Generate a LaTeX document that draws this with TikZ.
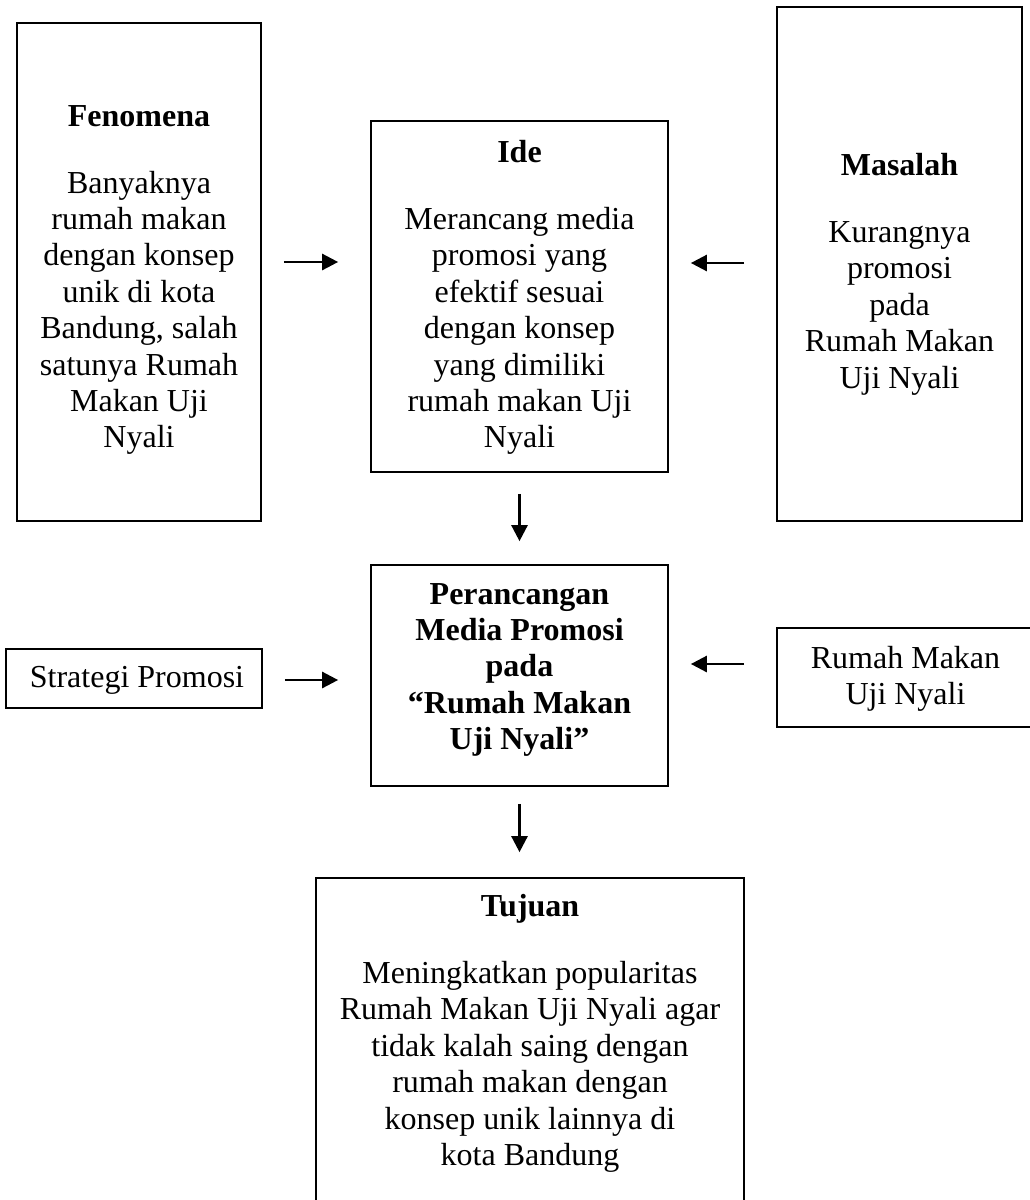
\documentclass[tikz,border=0pt]{standalone}
\usepackage{fontspec}
\setmainfont{Liberation Serif}
\usetikzlibrary{arrows.meta}
\tikzset{
box/.style={draw, line width=1.7pt, inner sep=0pt},
txt/.style={align=center, inner sep=0pt, anchor=north, font=\fontsize{32pt}{36.4pt}\selectfont},
arr/.style={-{Triangle[length=16pt,width=16pt]}, line width=2.6pt},
}
\newcommand{\ttl}[1]{\textbf{#1}\\[30.6pt]}

\begin{document}
\begin{tikzpicture}[x=1pt, y=-1pt]
    \path[use as bounding box] (0,0) rectangle (1030,1200);
    \clip (0,0) rectangle (1030,1200);
    % boxes
    \node[box, minimum width=244pt, minimum height=498pt] (fen) at (139,272) {};
    \node[box, minimum width=297pt, minimum height=351pt] (ide) at (519.5,296.5) {};
    \node[box, minimum width=245pt, minimum height=514pt] (mas) at (899.5,264) {};
    \node[box, minimum width=297pt, minimum height=221pt] (per) at (519.5,675.5) {};
    \node[box, minimum width=256pt, minimum height=59pt] (strat) at (134,678.5) {};
    \node[box, minimum width=257pt, minimum height=99pt] (rum) at (905.5,677.5) {};
    \node[box, minimum width=428pt, minimum height=332pt] (tuj) at (530,1044) {};
    % texts
    \node[txt] (fentxt) at (139,105) {\ttl{Fenomena}Banyaknya\\rumah makan\\dengan konsep\\unik di kota\\Bandung, salah\\satunya Rumah\\Makan Uji\\Nyali};
    \node[txt] (idetxt) at (519.5,140) {\ttl{Ide}Merancang media\\promosi yang\\efektif sesuai\\dengan konsep\\yang dimiliki\\rumah makan Uji\\Nyali};
    \node[txt] (mastxt) at (899.5,153) {\ttl{Masalah}Kurangnya\\promosi\\pada\\Rumah Makan\\Uji Nyali};
    \node[txt, font=\fontsize{32pt}{36.4pt}\selectfont\bfseries] (pertxt) at (519.5,583) {Perancangan\\Media Promosi\\pada\\“Rumah Makan\\Uji Nyali”};
    \node[txt, anchor=base] (strattxt) at (137,687) {Strategi Promosi};
    \node[txt] (rumtxt) at (905.5,646) {Rumah Makan\\Uji Nyali};
    \node[txt] (tujtxt) at (530,894) {\ttl{Tujuan}Meningkatkan popularitas\\Rumah Makan Uji Nyali agar\\tidak kalah saing dengan\\rumah makan dengan\\konsep unik lainnya di\\kota Bandung};
    % arrows
    \draw[arr, shorten <=22pt, shorten >=32pt] ([yshift=10pt]fen.east) -- ([yshift=10pt]fen.east -| ide.west);
    \draw[arr, shorten <=32pt, shorten >=22pt] ([yshift=1pt]mas.west) -- ([yshift=1pt]mas.west -| ide.east);
    \draw[arr, shorten <=21pt, shorten >=23pt] (ide.south) -- (per.north);
    \draw[arr, shorten <=22pt, shorten >=32pt] ([yshift=-1.5pt]strat.east) -- ([yshift=-1.5pt]strat.east -| per.west);
    \draw[arr, shorten <=32pt, shorten >=22pt] ([yshift=13.5pt]rum.west) -- ([yshift=13.5pt]rum.west -| per.east);
    \draw[arr, shorten <=17pt, shorten >=25pt] (per.south) -- (per.south |- tuj.north);
\end{tikzpicture}
\end{document}
